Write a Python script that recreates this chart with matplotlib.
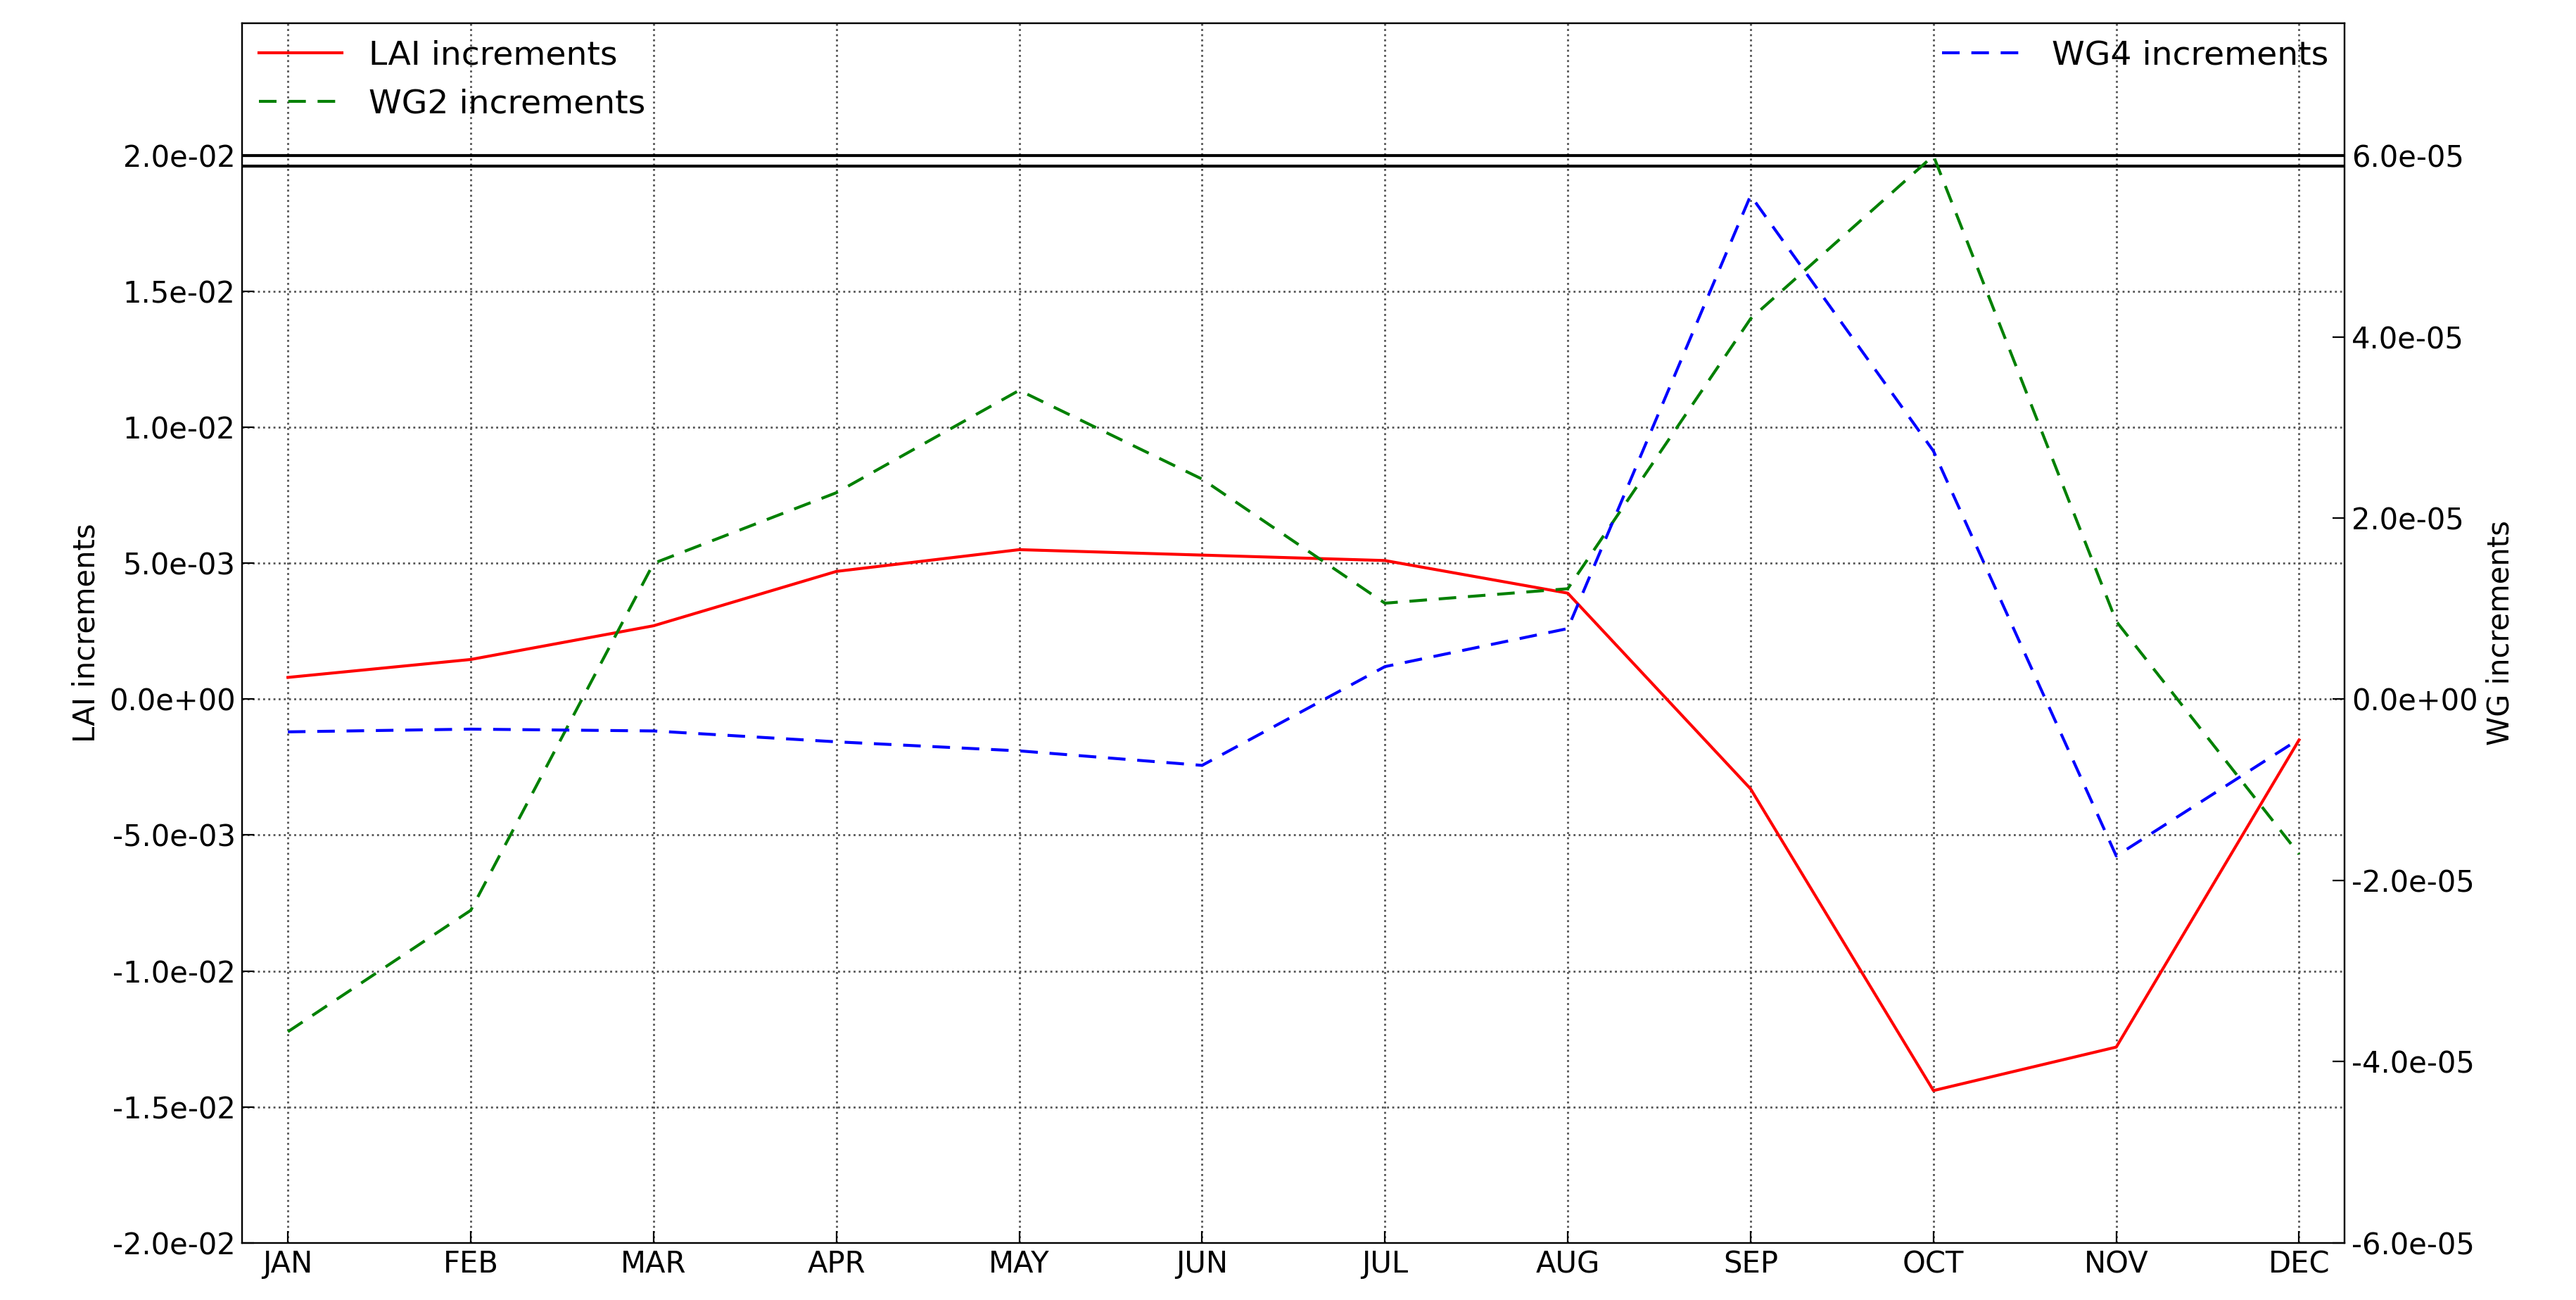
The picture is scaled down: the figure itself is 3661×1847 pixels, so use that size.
import matplotlib.pyplot as plt
import numpy as np

months = ['JAN', 'FEB', 'MAR', 'APR', 'MAY', 'JUN', 'JUL', 'AUG', 'SEP', 'OCT', 'NOV', 'DEC']
lai = [0.0008, 0.00146, 0.0027, 0.0047, 0.0055, 0.0053, 0.0051, 0.0039, -0.0033, -0.0144, -0.0128, -0.0015]
wg2 = [-3.67e-5, -2.33e-5, 1.5e-5, 2.28e-5, 3.41e-5, 2.43e-5, 1.06e-5, 1.22e-5, 4.2e-5, 6.0e-5, 0.86e-5, -1.71e-5]
wg4 = [-0.36e-5, -0.33e-5, -0.35e-5, -0.47e-5, -0.57e-5, -0.73e-5, 0.36e-5, 0.78e-5, 5.56e-5, 2.74e-5, -1.73e-5, -0.44e-5]
lai_ticks = [-0.02, -0.015, -0.01, -0.005, 0.0, 0.005, 0.01, 0.015, 0.02]
wg_ticks = [-6e-5, -4e-5, -2e-5, 0.0, 2e-5, 4e-5, 6e-5]

plt.rcParams['font.family'] = 'DejaVu Sans'
plt.rcParams['font.size'] = 15
fig = plt.figure(figsize=(18.31, 9.235), dpi=200)
ax = fig.add_axes([0.094, 0.044, 0.816, 0.938])
x = np.arange(len(months))

l1, = ax.plot(x, lai, color='red', lw=1.5, label='LAI increments')
ax.set_xlim(-0.25, 11.25)
ax.set_ylim(-0.02, 0.02486)
ax.set_yticks(lai_ticks)
ax.set_yticklabels(['%.1e' % v for v in lai_ticks])
ax.set_xticks(x)
ax.set_xticklabels(months)
ax.set_ylabel('LAI increments')
ax.grid(True, color='#555555', linestyle=':', lw=1)
ax.axhline(0.02, color='black', lw=1.5)
ax.axhline(0.0196, color='black', lw=1.5)

ax2 = ax.twinx()
l2, = ax2.plot(x, wg2, color='green', ls=(0, (6, 4)), lw=1.5, label='WG2 increments')
l3, = ax2.plot(x, wg4, color='blue', ls=(0, (6, 4)), lw=1.5, label='WG4 increments')
ax2.set_ylim(-6e-5, 7.46e-5)
ax2.set_yticks(wg_ticks)
ax2.set_yticklabels(['%.1e' % v for v in wg_ticks])
ax2.set_ylabel('WG increments')
for a in (ax, ax2):
    a.tick_params(direction='in', length=6)

leg1 = ax2.legend(handles=[l1, l2], loc='upper left', frameon=False, fontsize=17,
                  borderaxespad=0.1, handlelength=2.5)
ax2.add_artist(leg1)
ax2.legend(handles=[l3], loc='upper right', frameon=False, fontsize=17,
           borderaxespad=0.1, handlelength=2.5)

fig.savefig('out.png', dpi=200)
